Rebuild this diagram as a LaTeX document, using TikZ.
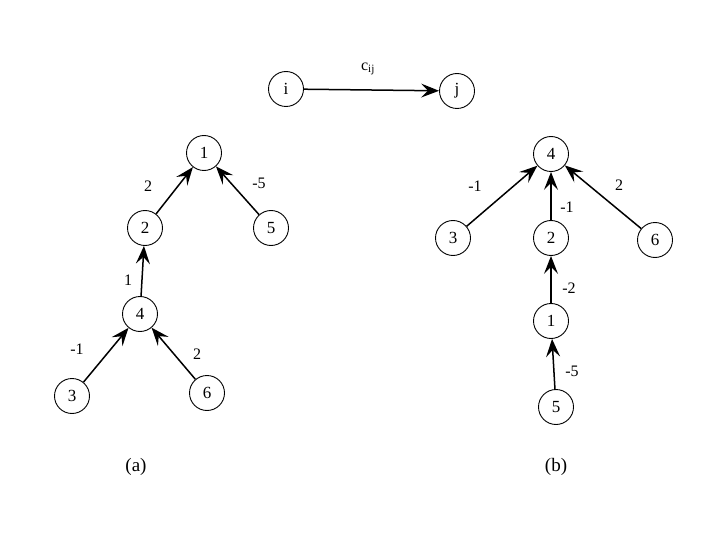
\documentclass[tikz,border=0pt]{standalone}
\usepackage{fontspec}
\setmainfont{Liberation Serif}
\usetikzlibrary{arrows.meta}
\begin{document}
\begin{tikzpicture}[x=1pt,y=-1pt,
  vtx/.style={draw,circle,minimum size=35pt,inner sep=0pt,line width=0.9pt,font=\fontsize{17}{19}\selectfont},
  edge/.style={line width=1.5pt,-{Stealth[length=18pt,width=14pt,inset=7pt]}},
  lbl/.style={font=\fontsize{16}{18}\selectfont},
  captxt/.style={font=\fontsize{19}{22}\selectfont}]
\useasboundingbox (0,0) rectangle (720,540);
% legend
\node[vtx] (i) at (286,89) {i};
\node[vtx] (j) at (457,91) {j};
\draw[edge] (i) -- (j);
\node[lbl] (cij) at (368,69) {c$_{\mathrm{ij}}$};
% tree (a)
\node[vtx] (a1) at (204,153) {1};
\node[vtx] (a2) at (145,228) {2};
\node[vtx] (a5) at (271,228) {5};
\node[vtx] (a4) at (140,314) {4};
\node[vtx] (a3) at (72,396) {3};
\node[vtx] (a6) at (207,393) {6};
\draw[edge] (a2) -- (a1);
\draw[edge] (a5) -- (a1);
\draw[edge] (a4) -- (a2);
\draw[edge] (a3) -- (a4);
\draw[edge] (a6) -- (a4);
\node[lbl] (la21) at (148,186) {2};
\node[lbl] (la51) at (259,183) {-5};
\node[lbl] (la42) at (128,280) {1};
\node[lbl] (la34) at (77,349) {-1};
\node[lbl] (la64) at (197,354) {2};
\node[captxt] (capa) at (136,467) {(a)};
% tree (b)
\node[vtx] (b4) at (551,154) {4};
\node[vtx] (b3) at (453,238) {3};
\node[vtx] (b2) at (551,238) {2};
\node[vtx] (b6) at (655,240) {6};
\node[vtx] (b1) at (551,321) {1};
\node[vtx] (b5) at (556,407) {5};
\draw[edge] (b3) -- (b4);
\draw[edge] (b2) -- (b4);
\draw[edge] (b6) -- (b4);
\draw[edge] (b1) -- (b2);
\draw[edge] (b5) -- (b1);
\node[lbl] (lb34) at (475,186) {-1};
\node[lbl] (lb24) at (567,207) {-1};
\node[lbl] (lb64) at (619,185) {2};
\node[lbl] (lb12) at (569,288) {-2};
\node[lbl] (lb51) at (572,371) {-5};
\node[captxt] (capb) at (556,467) {(b)};
\end{tikzpicture}
\end{document}
